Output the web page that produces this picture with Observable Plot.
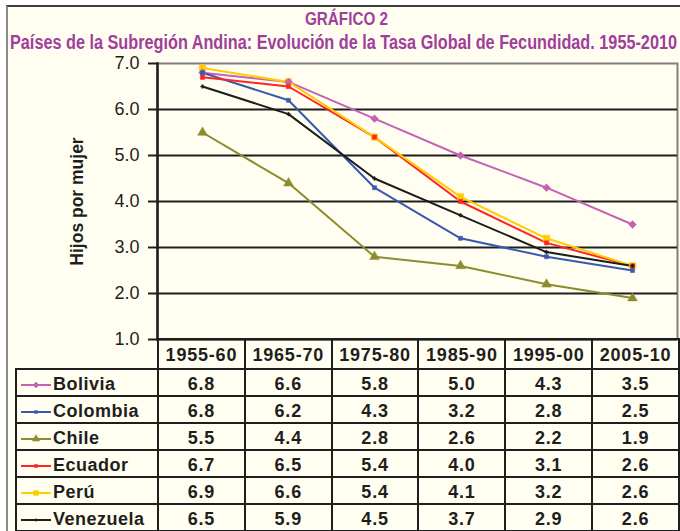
<!DOCTYPE html>
<html>
<head>
<meta charset="utf-8">
<script src="https://cdn.jsdelivr.net/npm/d3@7"></script>
<script src="https://cdn.jsdelivr.net/npm/@observablehq/plot@0.6"></script>
<style>
  html, body { margin: 0; padding: 0; background: #ffffff; }
  #page { position: relative; width: 680px; height: 531px; overflow: hidden; font-family: "Liberation Sans", Arial, sans-serif; }
  #frame { position: absolute; left: 6px; top: 5px; width: 720px; height: 600px; background: #FFFEF0;
           border-left: 2px solid #8c8c8c; border-top: 2px solid #3c3c3c; }
  .ttl { position: absolute; white-space: nowrap; color: #A03E9C; font-family: "Liberation Sans", Arial, sans-serif;
         font-weight: bold; transform-origin: 0 0; }
  #title { top: 9px; font-size: 18px; }
  #subtitle { top: 31px; font-size: 19.5px; }
  #chart { position: absolute; left: 0; top: 0; }
  #tbl { position: absolute; left: 15px; top: 338px; border-collapse: collapse; table-layout: fixed; width: 663px; }
  #tbl td { border: 2px solid #1e1e1e; font-weight: bold; font-size: 18px; color: #1e1e1e; text-align: center; padding: 0; letter-spacing: 0.8px; }
  #tbl tr.head td { height: 25px; padding-top: 3px; }
  #tbl tr.row td { height: 21px; padding-top: 4px; }
  #tbl td.blank { border-top: none; border-left: none; }
  #tbl td.name { text-align: left; white-space: nowrap; letter-spacing: 0.5px; }
  #tbl td.name svg { vertical-align: middle; margin-left: 3px; margin-right: 2px; }
</style>
</head>
<body>
<div id="page">
  <div id="frame"></div>
  <div id="chart"></div>
  <table id="tbl"></table>
  <div id="title" class="ttl">GRÁFICO 2</div>
  <div id="subtitle" class="ttl">Países de la Subregión Andina: Evolución de la Tasa Global de Fecundidad. 1955-2010</div>
</div>
<script>
// ---- data ----
const periods = ["1955-60", "1965-70", "1975-80", "1985-90", "1995-00", "2005-10"];
const countries = ["Bolivia", "Colombia", "Chile", "Ecuador", "Perú", "Venezuela"];
const bolivia   = [6.8, 6.6, 5.8, 5.0, 4.3, 3.5];
const colombia  = [6.8, 6.2, 4.3, 3.2, 2.8, 2.5];
const chile     = [5.5, 4.4, 2.8, 2.6, 2.2, 1.9];
const ecuador   = [6.7, 6.5, 5.4, 4.0, 3.1, 2.6];
const peru      = [6.9, 6.6, 5.4, 4.1, 3.2, 2.6];
const venezuela = [6.5, 5.9, 4.5, 3.7, 2.9, 2.6];
const yTicks = [1, 2, 3, 4, 5, 6, 7];
const yLabel = "Hijos por mujer";

// ---- styles ----
const colors  = ["#C462B6", "#3A58B0", "#8C8C2E", "#FF2424", "#FFCC00", "#1c1c1c"];
const symbols = ["diamond2", "square", "triangle", "square", "square", "cross"];
const radii   = [3.5, 2.3, 3.6, 2.4, 3.6, 1.5];

const seriesValues = [bolivia, colombia, chile, ecuador, peru, venezuela];
const data = [];
countries.forEach((c, i) => periods.forEach((p, j) => data.push({country: c, period: p, value: seriesValues[i][j], r: radii[i]})));

const chart = Plot.plot({
  width: 680,
  height: 352,
  marginTop: 63,
  marginBottom: 13,
  marginLeft: 157,
  marginRight: 3,
  style: {background: "transparent", fontFamily: "'Liberation Sans', Arial, sans-serif", color: "#1e1e1e", overflow: "visible"},
  x: {type: "point", domain: periods, padding: 0.5, axis: null},
  y: {domain: [1, 7], axis: null},
  r: {type: "identity"},
  color: {domain: countries, range: colors},
  symbol: {domain: countries, range: symbols},
  marks: [
    Plot.frame({stroke: "#7f7f7f", strokeWidth: 2}),
    Plot.ruleY([2, 3, 4, 5, 6], {stroke: "#1e1e1e", strokeWidth: 2}),
    Plot.ruleY([1], {stroke: "#1e1e1e", strokeWidth: 2}),
    Plot.frame({anchor: "left", stroke: "#1e1e1e", strokeWidth: 2.5}),
    Plot.axisY({ticks: yTicks, tickFormat: d => d.toFixed(1), tickSize: 9, tickPadding: 9,
                fontSize: 18, label: null, stroke: "#1e1e1e", strokeWidth: 2}),
    Plot.text([yLabel], {frameAnchor: "left", dx: -80, rotate: -90, fontSize: 17.5, fontWeight: "bold",
                         fill: "#1e1e1e", textAnchor: "middle", lineAnchor: "middle"}),
    Plot.line(data, {x: "period", y: "value", z: "country", stroke: "country", strokeWidth: 2}),
    Plot.dot(data, {x: "period", y: "value", symbol: "country", fill: "country", stroke: "country", strokeWidth: 0.5, r: "r"})
  ]
});
document.getElementById("chart").appendChild(chart);

// ---- table ----
const tbl = d3.select("#tbl");
const cg = tbl.append("colgroup");
cg.append("col").style("width", "142px");
periods.forEach(() => cg.append("col").style("width", (521 / 6).toFixed(2) + "px"));
const head = tbl.append("tr").attr("class", "head");
head.append("td").attr("class", "blank");
periods.forEach(p => head.append("td").text(p));
const symMap = {diamond2: d3.symbolDiamond2, square: d3.symbolSquare, triangle: d3.symbolTriangle, cross: d3.symbolCross};
countries.forEach((c, i) => {
  const tr = tbl.append("tr").attr("class", "row");
  const td = tr.append("td").attr("class", "name");
  const s = td.append("svg").attr("width", 31).attr("height", 10);
  s.append("line").attr("x1", 1).attr("x2", 31).attr("y1", 5).attr("y2", 5).attr("stroke", colors[i]).attr("stroke-width", 2);
  s.append("path").attr("transform", "translate(16,5)")
    .attr("d", d3.symbol(symMap[symbols[i]], Math.PI * radii[i] * radii[i] * 0.7)())
    .attr("fill", colors[i]);
  td.append("span").text(c);
  seriesValues[i].forEach(v => tr.append("td").text(v.toFixed(1)));
});

// ---- fit condensed titles to their widths in the reference ----
function fit(id, left, width) {
  const el = document.getElementById(id);
  const w = el.getBoundingClientRect().width;
  el.style.left = left + "px";
  el.style.transform = `scaleX(${width / w})`;
}
fit("title", 305, 83);
fit("subtitle", 10, 667);
</script>
</body>
</html>
